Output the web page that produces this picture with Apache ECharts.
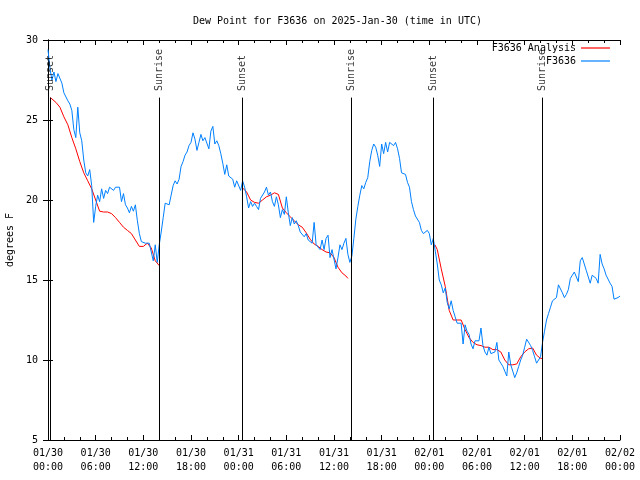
<!DOCTYPE html>
<html><head><meta charset="utf-8">
<script src="https://cdn.jsdelivr.net/npm/echarts@6/dist/echarts.min.js"></script>
<style>html,body{margin:0;padding:0;background:#fff}#c{width:640px;height:480px}</style>
</head><body><div id="c"></div>
<script>
const titleText = 'Dew Point for F3636 on 2025-Jan-30 (time in UTC)';
const yAxisName = 'degrees F';
const analysisName = 'F3636 Analysis';
const stationName = 'F3636';
const xTickLabels = ['01/30\n00:00','01/30\n06:00','01/30\n12:00','01/30\n18:00','01/31\n00:00','01/31\n06:00','01/31\n12:00','01/31\n18:00','02/01\n00:00','02/01\n06:00','02/01\n12:00','02/01\n18:00','02/02\n00:00'];
const yTickValues = [5, 10, 15, 20, 25, 30];

// station observations, one value every 15 minutes from 01/30 00:00 UTC
const stationStepHours = 0.25;
const stationValues = [
29.4,28.2,27.5,28.0, 27.4,27.9,27.9,27.3, 26.7,26.6,26.2,26.0, 25.6,24.4,23.9,25.8,
24.2,23.7,22.5,21.7, 21.5,21.9,20.9,18.6, 19.6,20.3,19.9,20.7, 20.1,20.6,20.4,20.8,
20.8,20.6,20.8,20.7, 20.8,19.9,20.4,19.7, 19.5,19.2,19.6,19.3, 19.7,18.7,17.9,17.4,
17.3,17.3,17.2,17.3, 17.3,16.2,17.2,16.1, 17.2,18.0,18.9,19.8, 19.9,19.7,20.3,20.9,
21.2,21.0,21.3,22.1, 22.4,22.8,23.0,23.4, 23.6,24.2,23.8,23.1, 23.6,24.1,23.7,23.9,
23.8,23.2,24.3,24.6, 23.5,23.7,23.4,22.9, 22.3,21.6,22.2,21.5, 21.4,21.3,20.8,21.2,
21.1,20.6,21.2,20.8, 20.2,19.5,19.9,19.6, 19.8,19.6,19.4,20.1, 20.2,20.5,20.8,20.3,
20.5,19.9,19.6,20.2, 19.7,18.9,19.4,19.1, 20.2,19.2,18.4,18.9, 18.5,18.7,18.4,18.0,
17.9,17.7,17.9,17.5, 17.6,17.3,18.6,17.2, 17.3,16.9,17.5,16.9, 17.6,17.8,16.4,16.9,
17.0,15.7,16.4,17.2, 16.9,17.3,17.6,16.6, 16.1,16.5,17.6,18.8, 19.6,20.3,20.9,20.7,
21.1,21.4,22.4,23.1, 23.5,23.3,22.8,22.1, 23.5,22.9,23.6,23.0, 23.6,23.5,23.4,23.6,
23.2,22.6,21.7,21.8, 21.6,21.1,20.8,19.9, 19.4,19.0,18.9,18.6, 18.1,17.9,18.0,18.1,
17.9,17.2,17.6,16.8, 16.0,15.0,14.7,14.2, 14.5,13.6,13.2,13.7, 13.1,12.7,12.3,12.2,
12.3,11.0,12.2,11.8, 11.6,11.0,10.7,11.2, 11.1,11.2,12.0,10.9, 10.5,10.3,10.8,10.4,
10.3,10.5,11.1,10.0, 9.8,9.6,9.3,9.0, 10.5,9.7,9.3,8.9, 9.2,9.6,10.0,10.3,
10.8,11.3,11.2,10.9, 10.6,10.2,9.8,9.7, 10.2,11.1,11.8,12.5, 12.9,13.3,13.7,13.6,
13.9,14.7,14.6,14.2, 13.9,14.1,14.4,15.1, 15.3,15.5,15.5,14.9, 16.2,16.4,16.0,15.6,
15.5,14.8,15.3,15.3, 15.1,14.8,16.6,16.0, 15.7,15.3,15.3,14.8, 14.6,13.8,13.7,13.9,
14.0
];

// analysis (hours since 01/30 00:00 UTC); null marks a gap
const analysisHours = [
0.3,0.5,1.0,1.5,2.0,2.5,3.0,3.5,4.0,4.5,5.0,5.5,6.0,6.5,7.0,7.5,8.0,8.5,9.0,9.5,10.0,10.5,11.0,11.5,12.0,12.5,13.0,13.5,14.0,
19.0,
24.5,25.0,25.5,26.0,26.5,27.0,27.5,28.0,28.5,29.0,29.5,30.0,30.5,31.0,31.5,32.0,32.5,33.0,33.5,34.0,34.5,35.0,35.5,36.0,36.5,37.0,37.5,37.75,
43.0,
48.7,49.0,49.5,50.0,50.5,51.0,51.5,52.0,52.5,53.0,53.5,54.0,54.5,55.0,55.5,56.0,56.5,57.0,57.5,58.0,58.5,59.0,59.5,60.0,60.5,61.0,61.5,62.0,62.2
];
const analysisValues = [
26.4,26.3,26.1,25.8,25.2,24.7,23.9,23.2,22.4,21.7,21.2,20.7,20.0,19.3,19.25,19.25,19.15,18.9,18.6,18.3,18.1,17.9,17.5,17.1,17.1,17.3,17.0,16.2,15.9,
null,
20.75,20.5,20.0,19.85,19.8,20.0,20.2,20.3,20.45,20.35,19.5,19.2,18.95,18.7,18.45,18.3,17.95,17.55,17.25,17.1,16.9,16.75,16.7,16.4,15.8,15.45,15.25,15.1,
null,
17.2,16.9,15.7,14.6,13.1,12.5,12.5,12.5,11.9,11.4,11.1,10.95,10.9,10.8,10.8,10.65,10.65,10.5,10.0,9.7,9.7,9.75,10.2,10.5,10.7,10.75,10.3,10.1,10.1
];

const sunEventHours = [0.3, 14.0, 24.45, 38.2, 48.5, 62.2];
const sunEventLabels = ['Sunset', 'Sunrise', 'Sunset', 'Sunrise', 'Sunset', 'Sunrise'];

const FONT = 'DejaVu Sans Mono';
const stationData = stationValues.map((v, i) => [i * stationStepHours, v]);
const analysisData = analysisHours.map((h, i) => [h, analysisValues[i]]);

const commonX = {
  type: 'value', min: 0, max: 72, interval: 6,
  axisLine: {show: true, lineStyle: {color: '#000', width: 1}},
  axisTick: {show: true, inside: true, length: 5, lineStyle: {color: '#000'}},
  minorTick: {show: true, splitNumber: 3, length: 3, lineStyle: {color: '#000'}},
  splitLine: {show: false}, minorSplitLine: {show: false}
};
const commonY = {
  type: 'value', min: 5, max: 30, interval: 5,
  axisLine: {show: true, lineStyle: {color: '#000', width: 1}},
  axisTick: {show: true, inside: true, length: 5, lineStyle: {color: '#000'}},
  splitLine: {show: false}
};
const legendCommon = {
  orient: 'horizontal', align: 'right', icon: 'rect',
  itemWidth: 29, itemHeight: 1.2, padding: 0,
  textStyle: {fontFamily: FONT, fontSize: 10, color: '#000'}
};

const chart = echarts.init(document.getElementById('c'), null, {renderer: 'canvas'});
chart.setOption({
  animation: false,
  backgroundColor: '#fff',
  textStyle: {fontFamily: FONT},
  title: {
    text: titleText, left: 188, top: 11,
    textStyle: {fontFamily: FONT, fontSize: 10, fontWeight: 'normal', color: '#000'}
  },
  legend: [
    Object.assign({}, legendCommon, {data: [analysisName], right: 30, top: 43}),
    Object.assign({}, legendCommon, {data: [stationName], right: 30, top: 56})
  ],
  grid: {left: 48, right: 20, top: 40, bottom: 40, containLabel: false, outerBoundsMode: 'none'},
  xAxis: [
    Object.assign({}, commonX, {
      position: 'bottom',
      axisLabel: {
        show: true, margin: 6, color: '#000', fontFamily: FONT, fontSize: 10, lineHeight: 14,
        formatter: v => xTickLabels[Math.round(v / 6)]
      }
    }),
    Object.assign({}, commonX, {position: 'top', axisLabel: {show: false}})
  ],
  yAxis: [
    Object.assign({}, commonY, {
      position: 'left',
      name: yAxisName, nameLocation: 'middle', nameGap: 33, nameRotate: 90,
      nameTextStyle: {fontFamily: FONT, fontSize: 10, color: '#000'},
      axisLabel: {show: true, margin: 10, color: '#000', fontFamily: FONT, fontSize: 10,
        formatter: v => yTickValues.indexOf(v) >= 0 ? String(v) : ''}
    }),
    Object.assign({}, commonY, {position: 'right', axisLabel: {show: false}})
  ],
  series: [
    {
      name: analysisName, type: 'line', xAxisIndex: 0, yAxisIndex: 0,
      data: analysisData, showSymbol: false, symbol: 'none', connectNulls: false,
      color: '#ff0000', lineStyle: {color: '#ff0000', width: 1}, z: 2,
      markLine: {
        silent: true, symbol: ['none', 'none'], animation: false,
        label: {show: false},
        lineStyle: {color: '#000', width: 1, type: 'solid'},
        data: sunEventHours.map(h => [{coord: [h, 5]}, {coord: [h, 26.4]}])
      }
    },
    {
      name: stationName, type: 'line', xAxisIndex: 0, yAxisIndex: 0,
      data: stationData, showSymbol: false, symbol: 'none',
      color: '#0080ff', lineStyle: {color: '#0080ff', width: 1}, z: 3
    },
    {
      name: 'sunLabels', type: 'scatter', xAxisIndex: 0, yAxisIndex: 0,
      symbolSize: 0, silent: true, z: 4,
      data: sunEventHours.map(h => [h, 26.75]),
      label: {
        show: true, position: 'inside', rotate: 90, align: 'left', verticalAlign: 'middle',
        offset: [1, 0],
        fontFamily: FONT, fontSize: 10, color: '#000',
        formatter: p => sunEventLabels[p.dataIndex]
      }
    }
  ]
});
</script>
</body></html>
